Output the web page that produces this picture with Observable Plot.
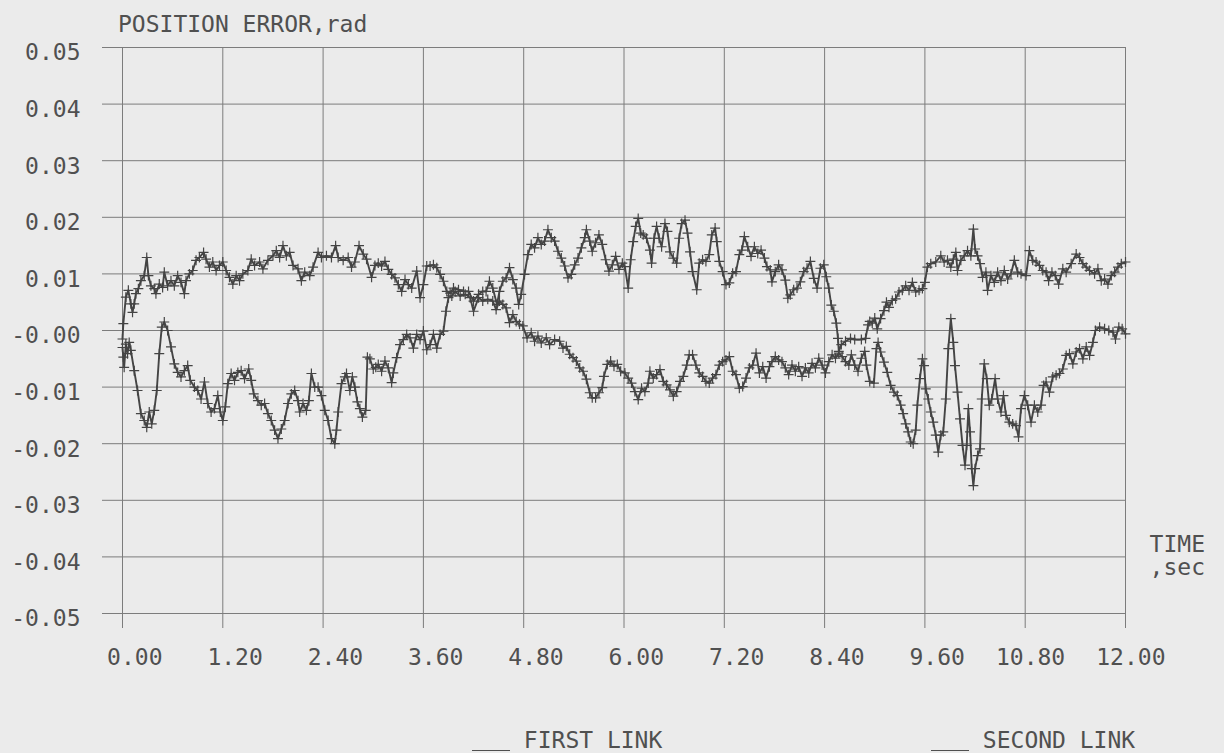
<!DOCTYPE html>
<html>
<head>
<meta charset="utf-8">
<script src="https://cdn.jsdelivr.net/npm/d3@7"></script>
<script src="https://cdn.jsdelivr.net/npm/@observablehq/plot@0.6"></script>
<style>
  html, body { margin: 0; padding: 0; background: #ebebeb; }
  #page {
    position: relative; width: 1224px; height: 753px; overflow: hidden;
    background: #ebebeb; color: #505050;
    font-family: "DejaVu Sans Mono", "Liberation Mono", monospace;
  }
  .label { position: absolute; font-size: 23px; line-height: 1; white-space: pre; }
  #title { left: 118px; top: 12.5px; }
  #time-unit { right: 19px; top: 532.5px; text-align: right; }
  #legend-first { left: 472px; top: 728.5px; }
  #legend-second { left: 931px; top: 728.5px; }
  .swatch {
    display: inline-block; width: 38px; height: 0;
    border-bottom: 1.5px solid #505050;
    position: relative; top: 3px;
  }
  #chart { position: absolute; left: 0; top: 36px; }
</style>
</head>
<body>
<div id="page">
  <div class="label" id="title">POSITION ERROR,rad</div>
  <div id="chart"></div>
  <div class="label" id="time-unit">TIME
,sec</div>
  <div class="label" id="legend-first"><span class="swatch"></span> FIRST LINK</div>
  <div class="label" id="legend-second"><span class="swatch"></span> SECOND LINK</div>
</div>
<script>
// Axis ticks and their printed labels
const timeTicks = [0, 1.2, 2.4, 3.6, 4.8, 6, 7.2, 8.4, 9.6, 10.8, 12];
const timeTickLabels = ["0.00", "1.20", "2.40", "3.60", "4.80", "6.00", "7.20", "8.40", "9.60", "10.80", "12.00"];
const errorTicks = [-0.05, -0.04, -0.03, -0.02, -0.01, 0, 0.01, 0.02, 0.03, 0.04, 0.05];
const errorTickLabels = ["-0.05", "-0.04", "-0.03", "-0.02", "-0.01", "-0.00", "0.01", "0.02", "0.03", "0.04", "0.05"];

// Position error of the first link: [time (sec), error (rad)]
const firstLink = [
  [0,-0.0015],[0.01,0.0012],[0.04,0.0059],[0.07,0.0071],[0.10,0.0047],[0.12,0.0032],[0.14,0.0047],[0.16,0.0065],
  [0.19,0.0074],[0.22,0.0088],[0.26,0.0097],[0.29,0.0129],[0.31,0.0097],[0.34,0.0079],[0.38,0.0074],[0.40,0.0065],
  [0.44,0.0082],[0.48,0.0076],[0.50,0.0103],[0.54,0.0079],[0.58,0.0088],[0.62,0.0079],[0.66,0.0097],[0.70,0.0085],
  [0.74,0.0065],[0.76,0.0088],[0.80,0.0100],[0.84,0.0106],[0.88,0.0124],[0.92,0.0129],[0.97,0.0138],[1.00,0.0126],
  [1.04,0.0112],[1.08,0.0121],[1.12,0.0106],[1.16,0.0115],[1.20,0.0121],[1.24,0.0106],[1.28,0.0094],[1.32,0.0082],
  [1.36,0.0097],[1.40,0.0088],[1.44,0.0100],[1.50,0.0106],[1.54,0.0126],[1.58,0.0115],[1.64,0.0121],[1.68,0.0109],
  [1.74,0.0124],[1.80,0.0132],[1.84,0.0141],[1.88,0.0129],[1.92,0.0150],[1.96,0.0132],[2.00,0.0138],[2.04,0.0115],
  [2.10,0.0109],[2.14,0.0088],[2.18,0.0103],[2.24,0.0097],[2.28,0.0112],[2.34,0.0138],[2.38,0.0129],[2.44,0.0132],
  [2.50,0.0129],[2.55,0.0150],[2.58,0.0129],[2.64,0.0124],[2.70,0.0129],[2.74,0.0112],[2.78,0.0121],[2.83,0.0150],
  [2.88,0.0135],[2.92,0.0126],[2.98,0.0094],[3.02,0.0115],
  [3.06,0.0119],[3.10,0.0114],[3.14,0.0122],[3.18,0.0108],[3.22,0.0099],[3.26,0.0093],[3.30,0.0081],[3.34,0.0069],
  [3.38,0.0090],[3.42,0.0081],[3.46,0.0075],[3.52,0.0105],[3.56,0.0058],[3.60,0.0081],[3.64,0.0114],[3.68,0.0114],
  [3.72,0.0116],[3.76,0.0111],[3.80,0.0099],[3.84,0.0087],[3.88,0.0069],[3.92,0.0066],[3.96,0.0075],[4.02,0.0072],
  [4.08,0.0069],[4.14,0.0069],[4.20,0.0052],[4.26,0.0064],[4.31,0.0069],[4.35,0.0069],[4.39,0.0087],[4.43,0.0075],
  [4.48,0.0046],[4.51,0.0069],[4.55,0.0087],[4.59,0.0093],[4.63,0.0111],[4.67,0.0090],[4.71,0.0075],[4.74,0.0046],
  [4.77,0.0064],[4.81,0.0099],[4.85,0.0134],[4.89,0.0152],[4.93,0.0146],[4.97,0.0164],[5.01,0.0152],[5.05,0.0158],
  [5.09,0.0178],[5.13,0.0164],[5.17,0.0158],[5.21,0.0140],[5.25,0.0128],[5.29,0.0114],[5.33,0.0093],[5.37,0.0099],
  [5.41,0.0116],[5.45,0.0128],[5.49,0.0146],[5.53,0.0164],[5.55,0.0178],[5.59,0.0158],[5.62,0.0140],[5.66,0.0155],
  [5.70,0.0169],[5.74,0.0152],[5.78,0.0125],[5.82,0.0105],[5.86,0.0116],[5.90,0.0131],[5.94,0.0108],[5.98,0.0119],
  [6.01,0.0113],[6.05,0.0075],[6.08,0.0125],[6.11,0.0157],[6.14,0.0184],[6.17,0.0198],[6.20,0.0172],[6.23,0.0169],
  [6.27,0.0163],[6.31,0.0142],[6.33,0.0119],[6.36,0.0163],[6.39,0.0184],[6.42,0.0163],[6.45,0.0148],[6.49,0.0189],
  [6.52,0.0175],[6.55,0.0139],[6.59,0.0128],[6.63,0.0119],[6.66,0.0163],[6.69,0.0189],[6.73,0.0195],[6.76,0.0172],
  [6.79,0.0139],[6.82,0.0104],[6.87,0.0072],[6.90,0.0119],[6.94,0.0125],[6.98,0.0122],[7.02,0.0134],[7.05,0.0169],
  [7.09,0.0181],[7.11,0.0157],[7.14,0.0122],[7.18,0.0104],[7.22,0.0081],[7.26,0.0084],[7.30,0.0101],[7.34,0.0104],
  [7.38,0.0134],[7.41,0.0142],[7.44,0.0166],[7.48,0.0148],[7.52,0.0131],[7.56,0.0148],[7.60,0.0136],[7.64,0.0142],
  [7.68,0.0128],[7.71,0.0113],[7.75,0.0107],[7.77,0.0086],[7.81,0.0104],[7.85,0.0116],[7.89,0.0107],[7.93,0.0089],
  [7.96,0.0057],[7.99,0.0063],[8.03,0.0072],[8.07,0.0075],[8.11,0.0086],[8.15,0.0104],[8.19,0.0110],[8.23,0.0122],
  [8.27,0.0092],[8.31,0.0075],[8.35,0.0110],[8.39,0.0116],[8.42,0.0095],[8.45,0.0075],[8.48,0.0045],[8.51,0.0034],
  [8.54,0.0013],[8.56,-0.0014],[8.57,-0.0037],[8.60,-0.0025],[8.65,-0.0019],[8.71,-0.0014],[8.76,-0.0016],[8.84,-0.0016],
  [8.89,-0.0014],[8.92,0.0010],[8.94,0.0016],[8.97,0.0013],[9.00,0.0022],
  [9.03,0.0003],[9.07,0.0021],[9.11,0.0035],[9.14,0.0050],[9.17,0.0041],[9.21,0.0053],[9.25,0.0056],[9.29,0.0068],
  [9.33,0.0071],[9.37,0.0079],[9.41,0.0071],[9.45,0.0085],[9.49,0.0068],[9.53,0.0071],[9.57,0.0074],[9.60,0.0085],
  [9.63,0.0112],[9.67,0.0118],[9.73,0.0121],[9.79,0.0132],[9.83,0.0121],[9.87,0.0124],[9.91,0.0112],[9.94,0.0126],
  [9.97,0.0138],[9.99,0.0106],[10.03,0.0124],[10.07,0.0132],[10.11,0.0141],[10.15,0.0132],[10.18,0.0179],[10.20,0.0144],
  [10.23,0.0132],[10.26,0.0118],[10.29,0.0094],[10.33,0.0103],[10.35,0.0071],[10.39,0.0097],[10.43,0.0085],[10.47,0.0103],
  [10.51,0.0088],[10.55,0.0106],[10.59,0.0091],[10.63,0.0100],[10.67,0.0124],[10.71,0.0103],[10.75,0.0100],[10.81,0.0097],
  [10.85,0.0141],[10.89,0.0124],[10.93,0.0121],[10.97,0.0115],[11.01,0.0106],[11.05,0.0103],[11.08,0.0088],[11.12,0.0103],
  [11.16,0.0097],[11.20,0.0082],[11.25,0.0109],[11.29,0.0103],[11.35,0.0118],[11.41,0.0135],[11.45,0.0129],[11.49,0.0118],
  [11.53,0.0112],[11.57,0.0106],[11.63,0.0100],[11.67,0.0109],[11.71,0.0088],[11.75,0.0091],[11.79,0.0082],[11.83,0.0097],
  [11.87,0.0103],[11.91,0.0112],[11.95,0.0118],[12.00,0.0121]
];

// Position error of the second link: [time (sec), error (rad)]
const secondLink = [
  [0,-0.0030],[0.01,-0.0047],[0.02,-0.0065],[0.04,-0.0024],[0.06,-0.0041],[0.08,-0.0021],[0.10,-0.0035],[0.14,-0.0071],
  [0.18,-0.0106],[0.22,-0.0147],[0.26,-0.0159],[0.29,-0.0171],[0.32,-0.0144],[0.35,-0.0165],[0.38,-0.0141],[0.41,-0.0106],
  [0.44,-0.0041],[0.47,0.0006],[0.50,0.0015],[0.54,0.0000],[0.58,-0.0029],[0.62,-0.0059],[0.66,-0.0074],[0.70,-0.0082],
  [0.74,-0.0071],[0.78,-0.0062],[0.81,-0.0088],[0.86,-0.0100],[0.90,-0.0106],[0.94,-0.0121],[0.98,-0.0091],[1.02,-0.0129],
  [1.06,-0.0144],[1.10,-0.0138],[1.14,-0.0115],[1.17,-0.0144],[1.20,-0.0159],[1.23,-0.0135],[1.26,-0.0094],[1.30,-0.0076],
  [1.34,-0.0088],[1.38,-0.0074],[1.42,-0.0071],[1.46,-0.0085],[1.51,-0.0068],[1.54,-0.0088],[1.57,-0.0112],[1.62,-0.0124],
  [1.66,-0.0132],[1.70,-0.0129],[1.74,-0.0147],[1.78,-0.0159],[1.82,-0.0176],[1.86,-0.0191],[1.90,-0.0174],[1.94,-0.0159],
  [1.98,-0.0129],[2.02,-0.0112],[2.06,-0.0106],[2.10,-0.0124],[2.12,-0.0144],[2.16,-0.0129],[2.20,-0.0141],[2.23,-0.0124],
  [2.26,-0.0076],[2.30,-0.0100],[2.34,-0.0100],[2.38,-0.0115],[2.42,-0.0141],[2.46,-0.0159],[2.50,-0.0191],[2.54,-0.0200],
  [2.56,-0.0176],[2.58,-0.0144],[2.62,-0.0094],[2.66,-0.0082],[2.68,-0.0076],[2.72,-0.0106],[2.75,-0.0082],[2.78,-0.0100],
  [2.81,-0.0126],[2.84,-0.0138],[2.87,-0.0153],[2.91,-0.0141],[2.93,-0.0047],[2.96,-0.0050],[3.00,-0.0068],[3.03,-0.0065],
  [3.06,-0.0060],[3.10,-0.0072],[3.14,-0.0054],[3.18,-0.0066],[3.22,-0.0092],[3.24,-0.0075],[3.28,-0.0048],[3.32,-0.0025],
  [3.36,-0.0016],[3.40,-0.0007],[3.44,-0.0013],[3.48,-0.0031],[3.52,-0.0007],[3.56,-0.0016],[3.60,-0.0001],[3.64,-0.0034],
  [3.68,-0.0025],[3.72,-0.0007],[3.76,-0.0031],[3.80,-0.0007],[3.84,-0.0001],[3.87,0.0034],[3.90,0.0058],[3.94,0.0061],
  [3.98,0.0069],[4.04,0.0061],[4.10,0.0064],[4.16,0.0058],[4.20,0.0034],[4.26,0.0058],[4.31,0.0052],[4.37,0.0055],
  [4.43,0.0052],[4.47,0.0037],[4.51,0.0052],[4.55,0.0046],[4.59,0.0040],[4.63,0.0014],[4.67,0.0028],[4.71,0.0016],
  [4.75,0.0011],[4.79,0.0008],[4.84,-0.0013],[4.89,-0.0004],[4.93,-0.0019],[4.97,-0.0010],[5.01,-0.0022],[5.07,-0.0013],
  [5.11,-0.0025],[5.17,-0.0016],[5.23,-0.0019],[5.27,-0.0031],[5.31,-0.0028],[5.35,-0.0042],[5.39,-0.0048],[5.43,-0.0054],
  [5.47,-0.0066],[5.51,-0.0072],[5.55,-0.0086],[5.59,-0.0110],[5.62,-0.0119],[5.66,-0.0119],[5.70,-0.0110],[5.74,-0.0101],
  [5.76,-0.0081],[5.80,-0.0060],[5.84,-0.0054],[5.88,-0.0063],[5.92,-0.0060],[5.96,-0.0072],[6.01,-0.0075],
  [6.05,-0.0084],[6.09,-0.0093],[6.13,-0.0108],[6.17,-0.0122],[6.21,-0.0102],[6.25,-0.0108],[6.29,-0.0093],[6.31,-0.0072],
  [6.35,-0.0084],[6.39,-0.0078],[6.43,-0.0069],[6.47,-0.0090],[6.51,-0.0096],[6.55,-0.0105],[6.59,-0.0116],[6.63,-0.0108],
  [6.67,-0.0090],[6.71,-0.0081],[6.75,-0.0061],[6.78,-0.0043],[6.82,-0.0043],[6.86,-0.0061],[6.90,-0.0075],[6.94,-0.0081],
  [6.98,-0.0090],[7.02,-0.0093],[7.06,-0.0084],[7.10,-0.0078],[7.14,-0.0061],[7.18,-0.0055],[7.22,-0.0052],[7.26,-0.0046],
  [7.30,-0.0072],[7.34,-0.0078],[7.38,-0.0102],[7.42,-0.0099],[7.46,-0.0084],[7.50,-0.0066],[7.54,-0.0061],[7.58,-0.0040],
  [7.62,-0.0075],[7.66,-0.0064],[7.70,-0.0084],[7.74,-0.0064],[7.77,-0.0055],[7.81,-0.0046],[7.85,-0.0052],[7.89,-0.0055],
  [7.93,-0.0066],[7.97,-0.0078],[8.01,-0.0061],[8.05,-0.0072],[8.09,-0.0064],[8.13,-0.0081],[8.17,-0.0066],[8.21,-0.0075],
  [8.25,-0.0058],[8.29,-0.0066],[8.33,-0.0049],[8.37,-0.0061],[8.41,-0.0075],[8.45,-0.0055],[8.49,-0.0043],[8.53,-0.0049],
  [8.57,-0.0040],[8.61,-0.0046],[8.65,-0.0055],[8.69,-0.0061],[8.72,-0.0043],[8.76,-0.0061],[8.80,-0.0072],[8.84,-0.0049],
  [8.88,-0.0037],[8.90,-0.0061],[8.94,-0.0090],[8.99,-0.0093],
  [9.02,-0.0032],[9.04,-0.0021],[9.07,-0.0038],[9.11,-0.0056],[9.15,-0.0074],[9.19,-0.0097],[9.23,-0.0109],[9.27,-0.0115],
  [9.31,-0.0132],[9.34,-0.0147],[9.37,-0.0165],[9.40,-0.0179],[9.43,-0.0197],[9.46,-0.0200],[9.49,-0.0176],[9.51,-0.0132],
  [9.54,-0.0085],[9.57,-0.0050],[9.59,-0.0062],[9.61,-0.0103],[9.64,-0.0121],[9.67,-0.0144],[9.70,-0.0162],[9.73,-0.0185],
  [9.76,-0.0215],[9.79,-0.0185],[9.82,-0.0179],[9.85,-0.0121],[9.88,-0.0032],[9.91,0.0021],[9.94,-0.0021],[9.96,-0.0062],
  [9.99,-0.0109],[10.02,-0.0156],[10.05,-0.0203],[10.08,-0.0238],[10.10,-0.0203],[10.12,-0.0138],[10.14,-0.0179],[10.16,-0.0244],
  [10.18,-0.0274],[10.20,-0.0244],[10.23,-0.0221],[10.26,-0.0209],[10.28,-0.0121],[10.31,-0.0059],[10.34,-0.0085],[10.37,-0.0132],
  [10.40,-0.0121],[10.44,-0.0085],[10.47,-0.0121],[10.51,-0.0144],[10.54,-0.0115],[10.57,-0.0150],[10.61,-0.0162],[10.65,-0.0165],
  [10.69,-0.0168],[10.72,-0.0188],[10.75,-0.0138],[10.79,-0.0115],[10.83,-0.0132],[10.87,-0.0162],[10.91,-0.0132],[10.95,-0.0144],
  [10.99,-0.0132],[11.02,-0.0097],[11.05,-0.0091],[11.09,-0.0109],[11.13,-0.0082],[11.17,-0.0079],[11.21,-0.0076],[11.25,-0.0068],
  [11.29,-0.0044],[11.33,-0.0041],[11.37,-0.0059],[11.41,-0.0038],[11.45,-0.0032],[11.49,-0.0050],[11.53,-0.0029],[11.57,-0.0044],
  [11.61,-0.0021],[11.64,0.0000],[11.69,0.0006],[11.75,0.0003],[11.80,0.0000],[11.85,-0.0003],[11.88,-0.0015],[11.92,0.0006],
  [11.96,0.0003],[12.00,-0.0006]
];

const inkColor = "#444444";
const gridColor = "#7c7c7c";

const timeOf = d => d[0];
const errorOf = d => d[1];

// A trace: the polyline plus a small pen-plotter cross at every sample
function trace(samples) {
  return [
    Plot.line(samples, { x: timeOf, y: errorOf, stroke: inkColor, strokeWidth: 1.9 }),
    Plot.dot(samples, { x: timeOf, y: errorOf, symbol: "plus", r: 3.3, stroke: inkColor, strokeWidth: 1.2 })
  ];
}

const chart = Plot.plot({
  width: 1224,
  height: 660,
  marginTop: 11,
  marginBottom: 83,
  marginLeft: 122,
  marginRight: 99,
  style: {
    background: "transparent",
    color: "#505050",
    fontFamily: "'DejaVu Sans Mono', 'Liberation Mono', monospace",
    fontSize: "23px"
  },
  x: { domain: [0, 12] },
  y: { domain: [-0.05, 0.05] },
  marks: [
    // grid
    Plot.ruleX(timeTicks, { stroke: gridColor, strokeWidth: 1 }),
    Plot.ruleY(errorTicks, { stroke: gridColor, strokeWidth: 1 }),
    // tick marks that run past the frame
    Plot.axisX({ ticks: timeTicks, tickSize: 15, stroke: gridColor, fill: "none", label: null }),
    Plot.axisY({ ticks: errorTicks, tickSize: 20, stroke: gridColor, fill: "none", label: null }),
    // tick labels
    Plot.axisX({
      ticks: timeTicks, tickSize: 0, tickPadding: 35, stroke: "none", label: null,
      tickFormat: d => timeTickLabels[timeTicks.indexOf(d)],
      textAnchor: "end", dx: 40
    }),
    Plot.axisY({
      ticks: errorTicks, tickSize: 0, tickPadding: 42, stroke: "none", label: null,
      tickFormat: d => errorTickLabels[errorTicks.indexOf(d)],
      dy: 5.5
    }),
    // the two traces
    ...trace(firstLink),
    ...trace(secondLink)
  ]
});

document.getElementById("chart").appendChild(chart);
</script>
</body>
</html>
